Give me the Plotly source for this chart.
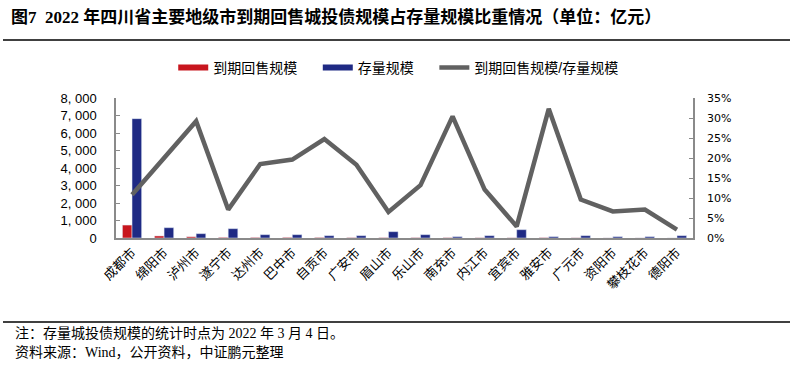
import plotly.graph_objects as go

cities = ["成都市", "绵阳市", "泸州市", "遂宁市", "达州市", "巴中市", "自贡市", "广安市", "眉山市",
          "乐山市", "南充市", "内江市", "宜宾市", "雅安市", "广元市", "资阳市", "攀枝花市", "德阳市"]
maturity = [740, 118, 72, 38, 35, 37, 33, 24, 24, 25, 23, 16, 14, 25, 13, 5, 5, 3]
stock = [6820, 590, 248, 533, 190, 190, 133, 133, 362, 190, 76, 133, 476, 76, 133, 76, 76, 133]
ratio = [0.108, 0.200, 0.292, 0.071, 0.185, 0.196, 0.2475, 0.183, 0.065, 0.132, 0.304, 0.121,
         0.029, 0.323, 0.096, 0.0665, 0.071, 0.021]
left_ticks = [0, 1000, 2000, 3000, 4000, 5000, 6000, 7000, 8000]
left_ticktext = ["0", "1, 000", "2, 000", "3, 000", "4, 000", "5, 000", "6, 000", "7, 000", "8, 000"]
right_ticks = [0, 0.05, 0.10, 0.15, 0.20, 0.25, 0.30, 0.35]

RED = "#C8161E"
BLUE = "#1F2A84"
GRAY = "#616161"
AX = "#8A8A8A"
CJK = "Liberation Sans, Noto Sans CJK SC"
SERIF = "Liberation Serif, Noto Sans CJK SC"
PAD = "\u00a0" * 4

fig = go.Figure()
fig.add_trace(go.Bar(x=cities, y=maturity, name="到期回售规模", marker_color=RED, showlegend=False))
fig.add_trace(go.Bar(x=cities, y=stock, name="存量规模", marker_color=BLUE, showlegend=False))
fig.add_trace(go.Scatter(x=[None], y=[None], mode="lines", name="到期回售规模" + PAD,
                         line=dict(color=RED, width=6)))
fig.add_trace(go.Scatter(x=[None], y=[None], mode="lines", name="存量规模" + PAD,
                         line=dict(color=BLUE, width=6)))
fig.add_trace(go.Scatter(x=cities, y=ratio, mode="lines", name="到期回售规模/存量规模",
                         line=dict(color=GRAY, width=4.5), yaxis="y2"))

W, H = 793, 366
L, R, T, B = 116, 100, 98, 128
pw, ph = W - L - R, H - T - B


def px(x):
    return (x - L) / pw


def py(y):
    return (H - B - y) / ph


fig.update_layout(
    width=W, height=H,
    margin=dict(l=L, r=R, t=T, b=B, pad=0),
    paper_bgcolor="white", plot_bgcolor="white",
    barmode="group", bargap=0.4, bargroupgap=0,
    font=dict(family=CJK, size=13, color="black"),
    showlegend=True,
    legend=dict(orientation="h", x=0.49, xanchor="center", y=py(68), yanchor="middle",
                font=dict(family=CJK, size=14, color="black"), traceorder="normal",
                itemwidth=30, bgcolor="rgba(0,0,0,0)"),
    xaxis=dict(type="category", showline=True, linecolor=AX, linewidth=1.5, ticks="",
               tickangle=-45, tickfont=dict(family=CJK, size=13), showgrid=False,
               zeroline=False),
    yaxis=dict(range=[0, 8000], tickvals=left_ticks, ticktext=left_ticktext, showline=True,
               linecolor=AX, linewidth=1.5, ticks="inside", ticklen=4, tickcolor=AX,
               showgrid=False, zeroline=False, ticklabelstandoff=15,
               tickfont=dict(family="Liberation Sans", size=13)),
    yaxis2=dict(range=[0, 0.35], tickvals=right_ticks, tickformat=".0%", overlaying="y",
                side="right", showline=True, linecolor=AX, linewidth=1.5, ticks="inside",
                ticklen=4, tickcolor=AX, showgrid=False, zeroline=False, ticklabelstandoff=10,
                tickfont=dict(family="DejaVu Sans", size=11)),
    shapes=[
        dict(type="line", xref="paper", yref="paper", x0=px(3), x1=px(790), y0=py(40), y1=py(40),
             line=dict(color="black", width=1.5)),
        dict(type="line", xref="paper", yref="paper", x0=px(3), x1=px(790), y0=py(322), y1=py(322),
             line=dict(color="black", width=1.5)),
    ],
    annotations=[
        dict(text="<b>图7  2022 年四川省主要地级市到期回售城投债规模占存量规模比重情况（单位：亿元）</b>",
             xref="paper", yref="paper", x=px(9), y=py(17), xanchor="left", yanchor="middle",
             showarrow=False, font=dict(family=SERIF, size=17, color="black")),
        dict(text="注：存量城投债规模的统计时点为 2022 年 3 月 4 日。",
             xref="paper", yref="paper", x=px(13), y=py(333), xanchor="left", yanchor="middle",
             showarrow=False, font=dict(family=SERIF, size=14, color="black")),
        dict(text="资料来源：Wind，公开资料，中证鹏元整理",
             xref="paper", yref="paper", x=px(13), y=py(352), xanchor="left", yanchor="middle",
             showarrow=False, font=dict(family=SERIF, size=14, color="black")),
    ],
)

fig.write_html("out.html", config={"displayModeBar": False},
               post_script="document.body.style.margin='0';")
